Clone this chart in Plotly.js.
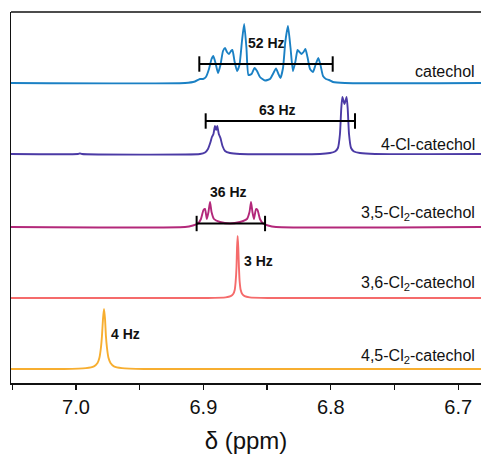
<!DOCTYPE html>
<html>
<head>
<meta charset="utf-8">
<script src="https://cdn.plot.ly/plotly-3.0.1.min.js"></script>
<style>html,body{margin:0;padding:0;background:#fff;overflow:hidden}#chart{width:481px;height:454px}</style>
</head>
<body>
<div id="chart"></div>
<script>
// ---- data (chemical shift in ppm, intensity in arbitrary units above each baseline) ----
const names = ["catechol", "4-Cl-catechol", "3,5-Cl<sub>2</sub>-catechol", "3,6-Cl<sub>2</sub>-catechol", "4,5-Cl<sub>2</sub>-catechol"];
const colors = ["#1a80c4", "#4b3aa5", "#b3287a", "#f56b6b", "#f7ae30"];
const baselines = [300, 229, 156, 85, 14];

const catecholX = [7.0510, 6.9144, 6.9066, 6.9027, 6.9003, 6.8980, 6.8956, 6.8936, 6.8922, 6.8905, 6.8885, 6.8866, 6.8846, 6.8830, 6.8815, 6.8799, 6.8783, 6.8772, 6.8756, 6.8736, 6.8717, 6.8697, 6.8680, 6.8662, 6.8646, 6.8622, 6.8599, 6.8579, 6.8556, 6.8516, 6.8477, 6.8450, 6.8430, 6.8411, 6.8395, 6.8375, 6.8356, 6.8336, 6.8316, 6.8297, 6.8277, 6.8261, 6.8246, 6.8230, 6.8214, 6.8199, 6.8183, 6.8163, 6.8140, 6.8120, 6.8098, 6.8081, 6.8061, 6.8038, 6.8014, 6.7983, 6.7889, 6.6821];
const catecholY = [0, 0, 1.5, 4, 4, 6, 14, 24, 27, 20, 10, 18, 32, 35, 31, 29, 32, 33, 22, 12, 18, 42, 59, 35, 8, 9, 15, 12, 6, 2.5, 4, 10, 14.5, 9, 5, 15, 42, 57, 35, 12, 22, 33, 31, 29, 31, 34, 26, 14, 11, 18, 25, 18, 7, 4, 3, 1, 0, 0];

const clX = [7.0510, 6.9984, 6.9969, 6.9953, 6.9027, 6.8987, 6.8964, 6.8944, 6.8933, 6.8921, 6.8909, 6.8900, 6.8891, 6.8879, 6.8866, 6.8850, 6.8830, 6.8791, 6.8713, 6.8085, 6.8006, 6.7967, 6.7944, 6.7928, 6.7918, 6.7909, 6.7892, 6.7876, 6.7867, 6.7857, 6.7841, 6.7818, 6.7771, 6.7653, 6.6821];
const clY = [0, 0, 0.6, 0, 0, 1.5, 5, 12, 17, 20, 28, 24, 28, 20, 16, 8, 3, 1, 0, 0, 1, 2.5, 6, 20, 45, 57, 50, 57, 45, 20, 6, 2.5, 1, 0, 0];

const cl35X = [7.0510, 6.9144, 6.9082, 6.9042, 6.9019, 6.8999, 6.8987, 6.8973, 6.8960, 6.8948, 6.8936, 6.8917, 6.8870, 6.8791, 6.8713, 6.8658, 6.8638, 6.8626, 6.8615, 6.8603, 6.8587, 6.8575, 6.8556, 6.8532, 6.8493, 6.8430, 6.6821];
const cl35Y = [0, 0, 1.5, 3.5, 8, 17, 18, 8, 15, 25, 15, 8, 5, 3.5, 5, 8, 15, 25, 15, 8, 18, 17, 8, 3.5, 1.5, 0, 0];

const cl36X = [7.0510, 6.8966, 6.8825, 6.8786, 6.8766, 6.8754, 6.8747, 6.8740, 6.8736, 6.8731, 6.8726, 6.8721, 6.8715, 6.8707, 6.8695, 6.8676, 6.8637, 6.8495, 6.6821];
const cl36Y = [0, 0, 0.6, 1.8, 4, 8, 16, 31, 50, 62, 50, 31, 16, 8, 4, 1.8, 0.6, 0, 0];

const cl45X = [7.0510, 7.0094, 6.9922, 6.9859, 6.9831, 6.9816, 6.9804, 6.9796, 6.9788, 6.9780, 6.9772, 6.9765, 6.9757, 6.9745, 6.9729, 6.9702, 6.9639, 6.9466, 6.6821];
const cl45Y = [0, 0, 0.9, 2.7, 6, 11.2, 21.5, 33, 50, 60, 50, 33, 21.5, 11.2, 6, 2.7, 0.9, 0, 0];

// coupling span bars: [start ppm, end ppm] and labels
const spanStart = [6.9032, 6.8982, 6.9053];
const spanEnd = [6.7985, 6.7810, 6.8516];
const spanLabels = ["52 Hz", "63 Hz", "36 Hz"];
const peakLabels = ["3 Hz", "4 Hz"];

// tick labels
const tickVals = [7.0, 6.9, 6.8, 6.7];
const tickText = ["7.0", "6.9", "6.8", "6.7"];
const minorVals = [7.05, 6.95, 6.85, 6.75];

// ---- build ----
const seriesX = [catecholX, clX, cl35X, cl36X, cl45X];
const seriesY = [catecholY, clY, cl35Y, cl36Y, cl45Y];
const FONT = "Liberation Sans, Arial, sans-serif";

const traces = seriesX.map((xs, i) => ({
  x: xs,
  y: seriesY[i].map(v => v + baselines[i]),
  type: "scatter", mode: "lines",
  line: {color: colors[i], width: 1.9, shape: "spline", smoothing: 0.5},
  hoverinfo: "skip", showlegend: false
}));

const spanY = [319, 262, 159.5];
spanStart.forEach((s, i) => {
  traces.push({
    x: [s, spanEnd[i]], y: [spanY[i], spanY[i]],
    type: "scatter", mode: "lines+markers",
    line: {color: "#000", width: 2},
    marker: {symbol: "line-ns-open", size: 11, line: {color: "#000", width: 2}},
    hoverinfo: "skip", showlegend: false
  });
});

const annotations = [];
const labelY = [312, 239, 169.5, 99.5, 27];
names.forEach((n, i) => annotations.push({
  text: n, xref: "paper", x: 1, xshift: -4, xanchor: "right",
  yref: "y", y: labelY[i], yanchor: "middle", showarrow: false,
  font: {family: FONT, size: 16, color: "#111"}
}));
const spanTextX = [6.8503, 6.8422, 6.8805];
const spanTextY = [340, 273, 191.5];
spanLabels.forEach((t, i) => annotations.push({
  text: "<b>" + t + "</b>", x: spanTextX[i], y: spanTextY[i], showarrow: false,
  font: {family: FONT, size: 14, color: "#111"}
}));
const peakTextX = [6.8569, 6.9615];
const peakTextY = [122.5, 49.5];
peakLabels.forEach((t, i) => annotations.push({
  text: "<b>" + t + "</b>", x: peakTextX[i], y: peakTextY[i], showarrow: false,
  font: {family: FONT, size: 14, color: "#111"}
}));

const layout = {
  width: 481, height: 454,
  margin: {l: 11, r: 0, t: 12, b: 71},
  paper_bgcolor: "#fff", plot_bgcolor: "#fff",
  font: {family: FONT, color: "#111"},
  xaxis: {
    range: [7.051, 6.6821], showgrid: false, zeroline: false,
    showline: true, linecolor: "#111", linewidth: 1.5,
    tickmode: "array", tickvals: tickVals, ticktext: tickText,
    ticks: "outside", ticklen: 5, tickwidth: 1.3, tickcolor: "#111",
    tickfont: {family: FONT, size: 20, color: "#111"},
    minor: {tickmode: "array", tickvals: minorVals, ticks: "outside", ticklen: 5, tickwidth: 1.3, tickcolor: "#111", showgrid: false},
    title: {text: "δ (ppm)", font: {family: FONT, size: 24, color: "#111"}, standoff: 22}
  },
  yaxis: {
    range: [0, 371], showgrid: false, zeroline: false,
    showline: true, linecolor: "#111", linewidth: 1.5,
    showticklabels: false, ticks: ""
  },
  shapes: [{type: "line", xref: "paper", yref: "paper", x0: 0, x1: 1, y0: 1, y1: 1, line: {color: "#111", width: 1.5}}],
  annotations: annotations
};

Plotly.newPlot("chart", traces, layout, {displayModeBar: false, staticPlot: true});
</script>
</body>
</html>
